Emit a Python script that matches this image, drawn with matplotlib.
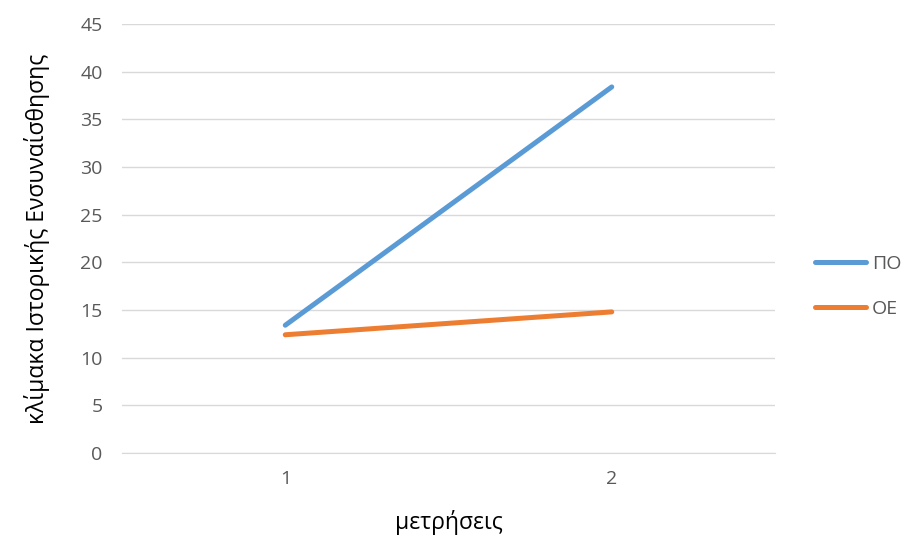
import matplotlib
matplotlib.use("Agg")
import matplotlib.pyplot as plt

# values
measurements = ["1", "2"]
po_values = [13.4, 38.4]
oe_values = [12.4, 14.8]
series_names = ["ΠΟ", "ΟΕ"]
colors = ["#5B9BD5", "#ED7D31"]

plt.rcParams['font.family'] = ['Open Sans', 'DejaVu Sans']

fig = plt.figure(figsize=(9.06, 5.36), dpi=100)
ax = fig.add_axes([0.1347, 0.1549, 0.8554 - 0.1347, 0.9552 - 0.1549])

x = list(range(1, len(measurements) + 1))
for vals, name, c in zip([po_values, oe_values], series_names, colors):
    ax.plot(x, vals, color=c, linewidth=3.6, solid_capstyle='round', label=name)

ax.set_xlim(0.5, len(measurements) + 0.5)
ax.set_ylim(0, 45)
ax.set_yticks(range(0, 46, 5))
ax.set_xticks(x)
ax.set_xticklabels(measurements)
ax.grid(axis='y', color='#D9D9D9', linewidth=1)
ax.set_axisbelow(True)
for s in ['top', 'right', 'left']:
    ax.spines[s].set_visible(False)
ax.spines['bottom'].set_color('#D9D9D9')
ax.tick_params(axis='both', length=0, labelsize=14, colors='#595959')
ax.tick_params(axis='y', pad=14)
ax.tick_params(axis='x', pad=12)

ax.set_xlabel("μετρήσεις", fontsize=16.5, labelpad=16)
ax.set_ylabel("κλίμακα Ιστορικής Ενσυναίσθησης", fontsize=16.5, labelpad=22)

fig.legend(loc='center left', bbox_to_anchor=(0.9, 0.466), frameon=False,
           fontsize=14, handlelength=2.6, handletextpad=0.3, labelspacing=1.4,
           labelcolor='#595959', borderaxespad=0, borderpad=0)

plt.savefig("out.png", dpi=100)
